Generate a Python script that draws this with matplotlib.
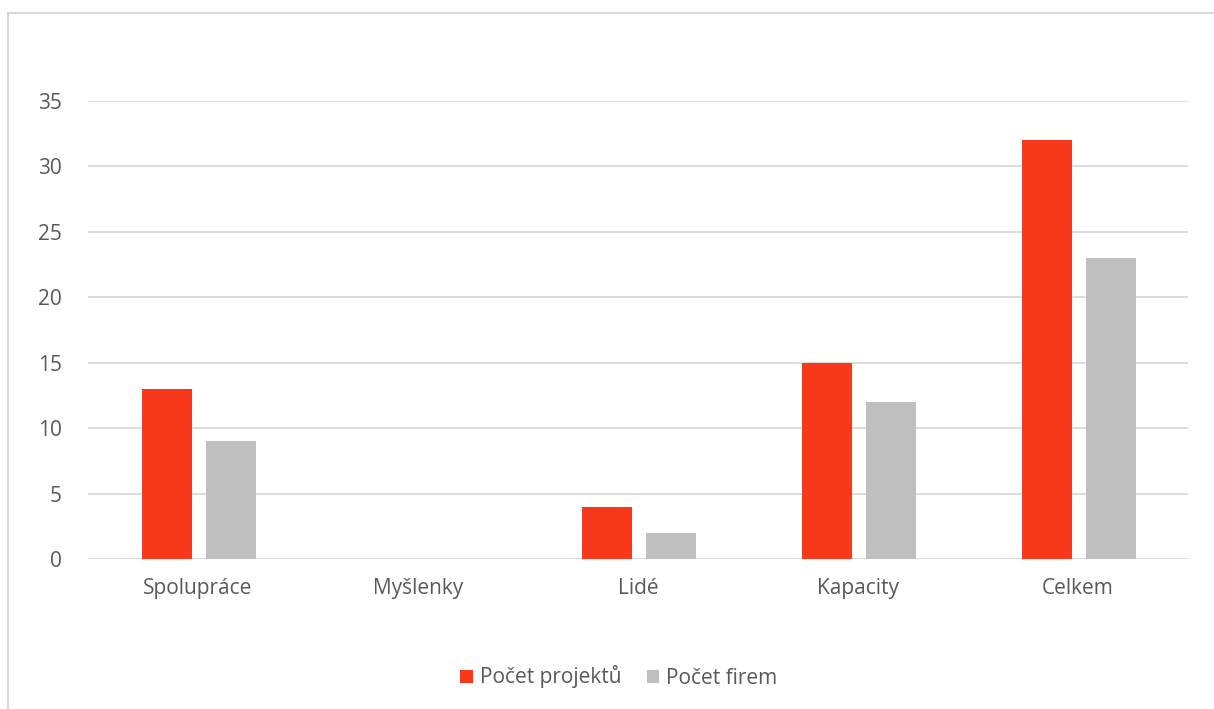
import matplotlib.pyplot as plt
from matplotlib.patches import Rectangle
import numpy as np

categories = ["Spolupráce", "Myšlenky", "Lidé", "Kapacity", "Celkem"]
pocet_projektu = [13, 0, 4, 15, 32]
pocet_firem = [9, 0, 2, 12, 23]
series_names = ["Počet projektů", "Počet firem"]

plt.rcParams['font.family'] = ['Open Sans', 'DejaVu Sans']

W, H = 1214, 709
fig = plt.figure(figsize=(W / 100, H / 100), dpi=100)

# chart border (outer frame, partly off-page)
fig.patches.append(Rectangle((8 / W, -0.05), 1.2, 1 - 13 / H + 0.05,
                             transform=fig.transFigure, fill=False,
                             edgecolor="#D9D9D9", linewidth=1.5))

ax = fig.add_axes([88 / W, 1 - 559 / H, 1100 / W, (559 - 101) / H])
x = np.arange(len(categories))
w = 0.227
ax.bar(x - 0.14, pocet_projektu, w, color="#F7381A", label=series_names[0], zorder=3)
ax.bar(x + 0.15, pocet_firem, w, color="#BFBFBF", label=series_names[1], zorder=3)

ax.set_xlim(-0.5, len(categories) - 0.5)
ax.set_ylim(0, 35)
ax.set_yticks(range(0, 36, 5))
ax.set_xticks(x)
ax.set_xticklabels(categories)
ax.grid(axis="y", color="#D9D9D9", linewidth=1.3, zorder=0)
ax.set_axisbelow(True)
for s in ax.spines.values():
    s.set_visible(False)
ax.tick_params(length=0, labelsize=15, labelcolor="#595959")
ax.tick_params(axis="x", pad=14)
ax.tick_params(axis="y", pad=19)

fig.legend(loc="center", bbox_to_anchor=(619 / W, 1 - 677 / H), ncol=2,
           frameon=False, fontsize=15, labelcolor="#595959",
           handlelength=0.6, handleheight=0.6, handletextpad=0.35,
           columnspacing=1.2)

fig.savefig("out.png", dpi=100)
